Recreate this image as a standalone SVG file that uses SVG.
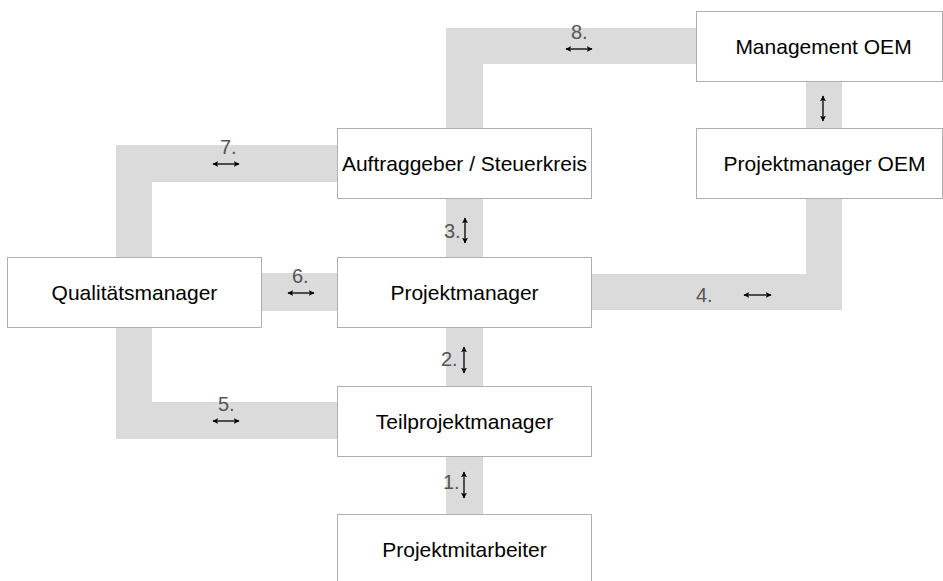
<svg xmlns="http://www.w3.org/2000/svg" width="943" height="581" viewBox="0 0 943 581">
  <defs>
    <marker id="tip" viewBox="0 0 10 10" refX="9" refY="5" markerWidth="6" markerHeight="6" markerUnits="userSpaceOnUse" orient="auto-start-reverse">
      <path d="M0,0 L10,5 L0,10 L2.5,5 Z" fill="#000"/>
    </marker>
  </defs>
  <style>
    .band { fill: #dbdbdb; }
    .box { fill: #fff; stroke: #b0b0b0; stroke-width: 1; }
    .name { font-family: "Liberation Sans", Arial, sans-serif; font-size: 21px; fill: #000; text-anchor: middle; }
    .num { font-family: "Liberation Sans", Arial, sans-serif; font-size: 20px; fill: #555; }
    .arr { stroke: #000; stroke-width: 1.3; fill: none; marker-start: url(#tip); marker-end: url(#tip); }
  </style>

  <rect width="943" height="581" fill="#fff"/>

  <!-- connectors: grey bands with numbered two-way arrows -->
  <g id="connectors">
    <!-- 8: Auftraggeber to Management OEM -->
    <rect class="band" x="446" y="28" width="250" height="36"/>
    <rect class="band" x="446" y="28" width="37" height="100"/>
    <!-- 7: Qualitaetsmanager to Auftraggeber -->
    <rect class="band" x="116" y="145" width="221" height="37"/>
    <rect class="band" x="116" y="145" width="36" height="112"/>
    <!-- 6 -->
    <rect class="band" x="262" y="273" width="75" height="38"/>
    <!-- 5 -->
    <rect class="band" x="116" y="328" width="36" height="111"/>
    <rect class="band" x="116" y="402" width="221" height="37"/>
    <!-- 3, 2, 1 vertical chain -->
    <rect class="band" x="446" y="199" width="37" height="58"/>
    <rect class="band" x="446" y="328" width="37" height="58"/>
    <rect class="band" x="446" y="456" width="37" height="58"/>
    <!-- 4: Projektmanager to Projektmanager OEM -->
    <rect class="band" x="592" y="274" width="250" height="36"/>
    <rect class="band" x="806" y="199" width="36" height="111"/>
    <!-- OEM internal -->
    <rect class="band" x="806" y="82" width="36" height="46"/>

    <line class="arr" x1="566" y1="49" x2="592" y2="49"/>
    <line class="arr" x1="213" y1="164" x2="239" y2="164"/>
    <line class="arr" x1="288" y1="293" x2="314" y2="293"/>
    <line class="arr" x1="213" y1="421" x2="239" y2="421"/>
    <line class="arr" x1="744" y1="295" x2="771" y2="295"/>
    <line class="arr" x1="465" y1="218" x2="465" y2="243"/>
    <line class="arr" x1="464" y1="347" x2="464" y2="373"/>
    <line class="arr" x1="464" y1="472" x2="464" y2="498"/>
    <line class="arr" x1="823" y1="96" x2="823" y2="121"/>

    <text class="num" x="571" y="39">8.</text>
    <text class="num" x="220" y="154">7.</text>
    <text class="num" x="292" y="283">6.</text>
    <text class="num" x="218" y="411">5.</text>
    <text class="num" x="696" y="302">4.</text>
    <text class="num" x="444" y="238">3.</text>
    <text class="num" x="441" y="366">2.</text>
    <text class="num" x="443" y="489">1.</text>
  </g>

  <g id="management-oem">
    <rect class="box" x="696.5" y="11.5" width="246" height="70"/>
    <text class="name" x="823.5" y="54">Management OEM</text>
  </g>
  <g id="auftraggeber">
    <rect class="box" x="337.5" y="128.5" width="254" height="70"/>
    <text class="name" x="464.5" y="171">Auftraggeber / Steuerkreis</text>
  </g>
  <g id="projektmanager-oem">
    <rect class="box" x="696.5" y="128.5" width="246" height="70"/>
    <text class="name" x="824.5" y="171">Projektmanager OEM</text>
  </g>
  <g id="qualitaetsmanager">
    <rect class="box" x="7.5" y="257.5" width="254" height="70"/>
    <text class="name" x="134.5" y="300">Qualitätsmanager</text>
  </g>
  <g id="projektmanager">
    <rect class="box" x="337.5" y="257.5" width="254" height="70"/>
    <text class="name" x="464.5" y="300">Projektmanager</text>
  </g>
  <g id="teilprojektmanager">
    <rect class="box" x="337.5" y="386.5" width="254" height="70"/>
    <text class="name" x="464.5" y="429">Teilprojektmanager</text>
  </g>
  <g id="projektmitarbeiter">
    <rect class="box" x="337.5" y="514.5" width="254" height="80"/>
    <text class="name" x="464.5" y="557">Projektmitarbeiter</text>
  </g>
</svg>
